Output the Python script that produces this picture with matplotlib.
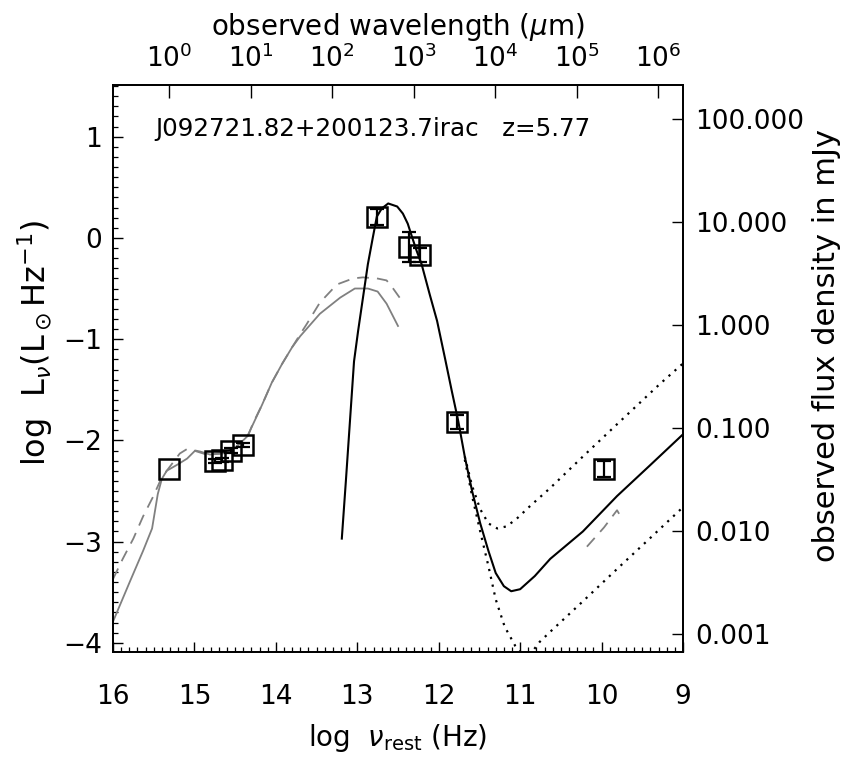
import numpy as np
import matplotlib
matplotlib.use('Agg')
import matplotlib.pyplot as plt
from matplotlib.ticker import MultipleLocator, FixedLocator, NullLocator, FuncFormatter

plt.rcParams['font.family'] = 'DejaVu Sans'
plt.rcParams['mathtext.fontset'] = 'dejavusans'

z = 5.77
label_text = 'J092721.82+200123.7irac   z=5.77'

# photometry (log rest frequency, log L_nu, error)
phot_lognu = [15.31, 14.75, 14.66, 14.55, 14.40, 12.76, 12.37, 12.23, 11.77, 9.97]
phot_logL = [-2.28, -2.20, -2.19, -2.10, -2.05, 0.21, -0.09, -0.17, -1.82, -2.28]
phot_err = [0.0, 0.02, 0.02, 0.02, 0.02, 0.08, 0.15, 0.07, 0.07, 0.08]

# total fit (dust + radio)
fit_lognu = [13.19, 13.14, 13.09, 13.04, 12.99, 12.93, 12.87, 12.81, 12.76, 12.70,
             12.62, 12.51, 12.44, 12.38, 12.32, 12.27, 12.21, 12.11, 12.02, 11.92,
             11.84, 11.76, 11.68, 11.59, 11.49, 11.39, 11.30, 11.20, 11.11, 11.00,
             10.82, 10.63, 10.23, 9.81, 9.41, 9.00]
fit_logL = [-2.97, -2.40, -1.81, -1.22, -0.92, -0.59, -0.26, 0.00, 0.21, 0.29,
            0.34, 0.31, 0.24, 0.14, -0.01, -0.13, -0.26, -0.56, -0.82, -1.20,
            -1.51, -1.81, -2.16, -2.50, -2.82, -3.09, -3.31, -3.44, -3.49, -3.47,
            -3.34, -3.17, -2.90, -2.55, -2.25, -1.94]

# radio range (dotted)
hi_lognu = [11.68, 11.59, 11.49, 11.39, 11.28, 11.17, 11.05, 10.88, 10.63, 10.23, 9.77, 9.28, 9.00]
hi_logL = [-2.16, -2.45, -2.68, -2.82, -2.87, -2.85, -2.78, -2.65, -2.47, -2.16, -1.81, -1.44, -1.24]
lo_lognu = [11.68, 11.59, 11.49, 11.39, 11.30, 11.19, 11.06, 10.92, 10.76, 10.63, 10.23, 9.77, 9.41, 9.00]
lo_logL = [-2.19, -2.55, -2.90, -3.24, -3.57, -3.84, -4.03, -4.16, -3.99, -3.89, -3.59, -3.24, -2.97, -2.66]

# optical/IR templates (grey)
tpl_lognu = [16.00, 15.79, 15.63, 15.52, 15.45, 15.40, 15.34, 15.21, 15.09, 14.99,
             14.93, 14.81, 14.65, 14.48, 14.35, 14.28, 14.17, 14.05, 13.92, 13.80,
             13.70, 13.46, 13.21, 13.03, 12.87, 12.75, 12.64, 12.50]
tpl_logL = [-3.79, -3.39, -3.09, -2.87, -2.53, -2.38, -2.30, -2.24, -2.18, -2.10,
            -2.11, -2.14, -2.13, -2.06, -1.96, -1.84, -1.65, -1.43, -1.24, -1.08,
            -0.97, -0.75, -0.59, -0.50, -0.50, -0.53, -0.65, -0.87]
tpl2_lognu = [16.00, 15.88, 15.75, 15.63, 15.51, 15.42, 15.34, 15.18, 15.08, 14.97,
              14.85, 14.69, 14.50, 14.35, 14.28, 14.17, 14.05, 13.92, 13.80, 13.70,
              13.62, 13.46, 13.25, 13.05, 12.93, 12.76, 12.64, 12.56, 12.48]
tpl2_logL = [-3.37, -3.17, -2.97, -2.75, -2.56, -2.40, -2.30, -2.13, -2.08, -2.11,
             -2.14, -2.13, -2.07, -1.97, -1.83, -1.65, -1.43, -1.24, -1.08, -0.95,
             -0.85, -0.64, -0.46, -0.40, -0.39, -0.40, -0.42, -0.50, -0.59]
radio_lognu = [10.18, 9.97, 9.81, 9.76]
radio_logL = [-3.05, -2.86, -2.69, -2.76]

# log of c(1+z) in micron/s, for the observed wavelength axis
K = np.log10(2.998e14 * (1 + z))

fig = plt.figure(figsize=(8.48, 7.59), dpi=100)
ax = fig.add_axes([0.13325, 0.141, 0.67217, 0.747])

grey = '#808080'
ax.plot(tpl_lognu, tpl_logL, color=grey, lw=1.3)
ax.plot(tpl2_lognu, tpl2_logL, color=grey, lw=1.3, ls=(0, (6.5, 4.5)))
ax.plot(radio_lognu, radio_logL, color=grey, lw=1.3, ls=(0, (6.5, 4.5)))
ax.plot(fit_lognu, fit_logL, color='k', lw=1.5)
ax.plot(hi_lognu, hi_logL, color='k', lw=1.6, ls=(0, (1, 2.6)))
ax.plot(lo_lognu, lo_logL, color='k', lw=1.6, ls=(0, (1, 2.6)))

ax.plot(phot_lognu, phot_logL, 's', ms=14, mfc='none', mec='k', mew=1.8)
eb = [i for i, e in enumerate(phot_err) if e > 0]
ax.errorbar([phot_lognu[i] for i in eb], [phot_logL[i] for i in eb],
            yerr=[phot_err[i] for i in eb], fmt='none', ecolor='k',
            elinewidth=1.6, capsize=5, capthick=1.6)

ax.text(15.48, 1.075, label_text, fontsize=17.7, va='center', ha='left')

ax.set_xlim(16, 9)
ax.set_ylim(-4.09, 1.51)
ax.xaxis.set_major_locator(MultipleLocator(1))
ax.xaxis.set_minor_locator(MultipleLocator(0.1))
ax.yaxis.set_major_locator(MultipleLocator(1))
ax.yaxis.set_minor_locator(MultipleLocator(0.1))
ax.tick_params(which='both', direction='in', top=False, right=False, labelsize=19)
ax.tick_params(which='major', length=7, width=1.0)
ax.tick_params(which='minor', length=3.5, width=0.9)
ax.tick_params(axis='x', pad=23)
ax.tick_params(axis='y', pad=8)
ax.yaxis.set_major_formatter(FuncFormatter(lambda v, p: f'{v:.0f}'.replace('-', '\u2212')))
for s in ax.spines.values():
    s.set_linewidth(1.1)

ax.set_xlabel(r'log  $\nu_{\rm rest}$ (Hz)', fontsize=20)
ax.xaxis.set_label_coords(0.5, -0.123)
ax.set_ylabel(r'log  L$_\nu$(L$_\odot$Hz$^{-1}$)', fontsize=23)
ax.yaxis.set_label_coords(-0.102, 0.545)

# top axis: observed wavelength
ax_top = ax.twiny()
ax_top.set_xscale('log')
ax_top.set_xlim(10 ** (K - 16), 10 ** (K - 9))
ax_top.xaxis.set_major_locator(FixedLocator(10.0 ** np.arange(0, 7)))
ax_top.xaxis.set_minor_locator(NullLocator())
ax_top.tick_params(axis='x', direction='in', length=9, width=1.0, pad=9, labelsize=19)
ax_top.set_xlabel(r'observed wavelength ($\mu$m)', fontsize=20)
ax_top.xaxis.set_label_coords(0.5, 1.088)
for s in ax_top.spines.values():
    s.set_linewidth(1.1)

# right axis: observed flux density
ax_r = ax.twinx()
ax_r.set_yscale('log')
ax_r.set_ylim(10 ** -3.175, 10 ** 2.33)
ax_r.yaxis.set_major_locator(FixedLocator(10.0 ** np.arange(-3, 3)))
ax_r.yaxis.set_minor_locator(NullLocator())
ax_r.yaxis.set_major_formatter(FuncFormatter(lambda v, p: f'{v:.3f}'))
ax_r.tick_params(axis='y', direction='in', length=8, width=1.0, pad=9, labelsize=19)
ax_r.set_ylabel('observed flux density in mJy', fontsize=22)
ax_r.yaxis.set_label_coords(1.226, 0.541)
for s in ax_r.spines.values():
    s.set_linewidth(1.1)

fig.savefig('out.png', dpi=100)
